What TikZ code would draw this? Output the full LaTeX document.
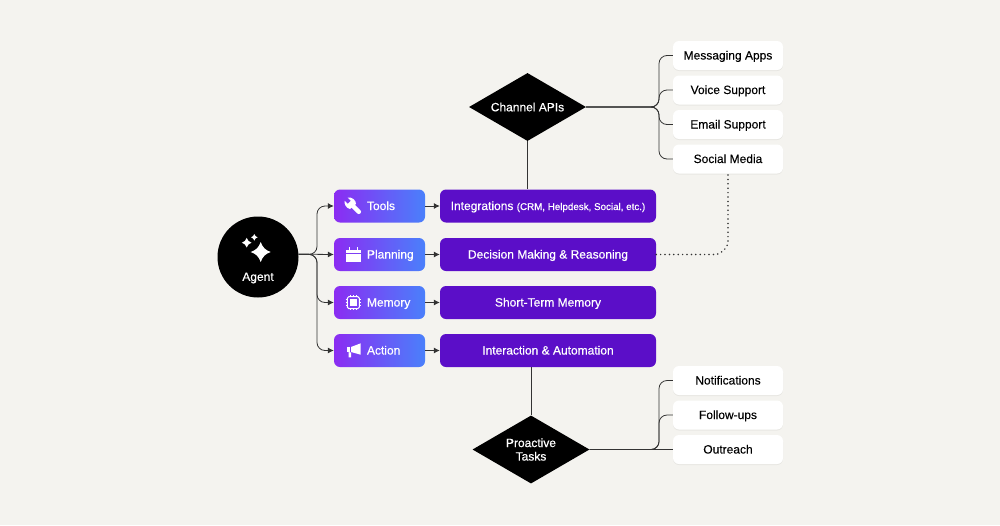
\documentclass[tikz,border=0pt]{standalone}
\usepackage{fontspec}
\setmainfont[FakeBold=0.12]{Liberation Sans}
\newfontfamily\medfont[FakeBold=0.5]{Liberation Sans}
\usetikzlibrary{arrows.meta,shapes.geometric,shadows}
\definecolor{paper}{HTML}{F4F3EF}
\definecolor{deeppurple}{HTML}{5B0EC8}
\definecolor{gradpurple}{HTML}{8B2CF2}
\definecolor{gradblue}{HTML}{4A80FB}
\definecolor{linegrey}{HTML}{333333}
\begin{document}
\begin{tikzpicture}[x=1pt,y=-1pt]
\tikzset{catnoeud/.style={rounded corners=6pt, minimum height=33pt, inner sep=0pt, left color=gradpurple, right color=gradblue, text=white, font=\medfont\fontsize{12}{14}\selectfont, text width=91pt, align=left, text height=10pt, text depth=2pt, execute at begin node={\hspace*{33pt}}}}
\tikzset{modnoeud/.style={rounded corners=6pt, fill=deeppurple, minimum width=216pt, minimum height=33pt, inner sep=0pt, text=white, font=\medfont\fontsize{12}{14}\selectfont, text height=10pt, text depth=2pt}}
\tikzset{itemnoeud/.style={rounded corners=6pt, fill=white, minimum width=110pt, minimum height=29pt, inner sep=0pt, text=black, font=\fontsize{12}{14}\selectfont, text height=10pt, text depth=2pt, drop shadow={shadow xshift=0pt, shadow yshift=-1pt, opacity=.05, fill=black}}}
\tikzset{losange/.style={diamond, fill=black, aspect=1.72, minimum width=117pt, minimum height=68pt, inner sep=0pt, text=white, align=center, font=\medfont\fontsize{12}{13.5}\selectfont}}
\tikzset{lien/.style={draw=linegrey, line width=.8pt, rounded corners=8pt}}
\tikzset{fleche/.style={lien, -{Latex[length=6pt,width=6pt]}}}
\fill[paper] (0,0) rectangle (1000,525);
\node[circle, fill=black, minimum size=81pt, inner sep=0pt] (agent) at (258,257) {};
\node[text=white, font=\medfont\fontsize{12}{14}\selectfont] (agentlabel) at (258,278) {Agent};
\node[catnoeud] (tools) at (379.5,206) {Tools};
\node[catnoeud] (planning) at (379.5,254.5) {Planning};
\node[catnoeud] (memory) at (379.5,302.5) {Memory};
\node[catnoeud] (action) at (379.5,350.5) {Action};
\node[modnoeud] (integrations) at (548,206) {Integrations {\fontsize{9.8}{12}\selectfont (CRM, Helpdesk, Social, etc.)}};
\node[modnoeud] (decision) at (548,254.5) {Decision Making \& Reasoning};
\node[modnoeud] (shortterm) at (548,302.5) {Short-Term Memory};
\node[modnoeud] (interaction) at (548,350.5) {Interaction \& Automation};
\node[losange] (channel) at (527.5,107) {Channel APIs};
\node[losange] (proactive) at (531,449.5) {Proactive\\Tasks};
\node[itemnoeud] (messaging) at (728,55.5) {Messaging Apps};
\node[itemnoeud] (voice) at (728,90) {Voice Support};
\node[itemnoeud] (email) at (728,124.5) {Email Support};
\node[itemnoeud] (social) at (728,159) {Social Media};
\node[itemnoeud] (notifications) at (728,380.5) {Notifications};
\node[itemnoeud] (followups) at (728,415) {Follow-ups};
\node[itemnoeud] (outreach) at (728,449.5) {Outreach};
\coordinate (agentbus) at (317,254.5);
\coordinate (channelbus) at (659,107);
\coordinate (taskbus) at (659,449.5);
\draw[fleche] (agent.4) -- (agentbus) |- (tools.west);
\draw[fleche] (agent.4) -- (planning.west);
\draw[fleche] (agent.4) -- (agentbus) |- (memory.west);
\draw[fleche] (agent.4) -- (agentbus) |- (action.west);
\draw[fleche] (tools.east) -- (integrations.west);
\draw[fleche] (planning.east) -- (decision.west);
\draw[fleche] (memory.east) -- (shortterm.west);
\draw[fleche] (action.east) -- (interaction.west);
\draw[lien] (channel.south) -- (channel.south |- integrations.north);
\draw[lien] (proactive.north |- interaction.south) -- (proactive.north);
\draw[lien] (channel.east) -- (channelbus) |- (messaging.west);
\draw[lien] (channel.east) -- (channelbus) |- (voice.west);
\draw[lien] (channel.east) -- (channelbus) |- (email.west);
\draw[lien] (channel.east) -- (channelbus) |- (social.west);
\draw[lien] (proactive.east) -- (taskbus) |- (notifications.west);
\draw[lien] (proactive.east) -- (taskbus) |- (followups.west);
\draw[lien] (proactive.east) -- (outreach.west);
\draw[linegrey, line width=1.7pt, line cap=round, dash pattern=on 0pt off 4.4pt, rounded corners=14pt] (decision.east) -| (social.south);
% sparkles
\foreach \sx/\sy/\sr in {260.7/252/10, 246.7/242.7/4.8, 254.3/237.3/3.3}
  \fill[white, shift={(\sx,\sy)}, scale=\sr] (-1,0) .. controls (-.45,-.2) and (-.2,-.45) .. (0,-1) .. controls (.2,-.45) and (.45,-.2) .. (1,0) .. controls (.45,.2) and (.2,.45) .. (0,1) .. controls (-.2,.45) and (-.45,.2) .. (-1,0) -- cycle;
% wrench
\fill[white] (347.6,197.5) -- (350.9,200.7) -- (347.7,203.9) -- (344.6,200.8) .. controls (344,204) and (346,208) .. (350,209) -- (356,204) .. controls (356,200) and (352,197) .. (347.6,197.5) -- cycle;
\draw[white, line width=4.5pt, line cap=round] (351.5,204.5) -- (358.8,211.8);
% calendar
\fill[white] (346,249.5) rectangle (360.7,253);
\fill[white] (346,254.3) rectangle (360.7,261.7);
\fill[white] (349,246.7) rectangle (350.3,249.5);
\fill[white] (356.5,246.7) rectangle (357.8,249.5);
% chip
\draw[white, line width=1pt, rounded corners=1.5pt] (347.3,296.7) rectangle (359.3,308.7);
\fill[white] (349.8,299.2) rectangle (356.8,306.2);
\draw[white, line width=.9pt] (345.6,299.7) -- (347.3,299.7) (345.6,302.7) -- (347.3,302.7) (345.6,305.7) -- (347.3,305.7) (359.3,299.7) -- (361,299.7) (359.3,302.7) -- (361,302.7) (359.3,305.7) -- (361,305.7) (350.3,295) -- (350.3,296.7) (353.3,295) -- (353.3,296.7) (356.3,295) -- (356.3,296.7) (350.3,308.7) -- (350.3,310.4) (353.3,308.7) -- (353.3,310.4) (356.3,308.7) -- (356.3,310.4);
% megaphone
\fill[white] (351,347) -- (360.7,343.3) -- (360.7,354.7) -- (351,352) -- cycle;
\fill[white] (346.7,347) rectangle (350.3,352);
\fill[white] (348.5,352) -- (351,352.5) -- (351,357.3) -- (348.5,357.3) -- cycle;
\end{tikzpicture}
\end{document}
